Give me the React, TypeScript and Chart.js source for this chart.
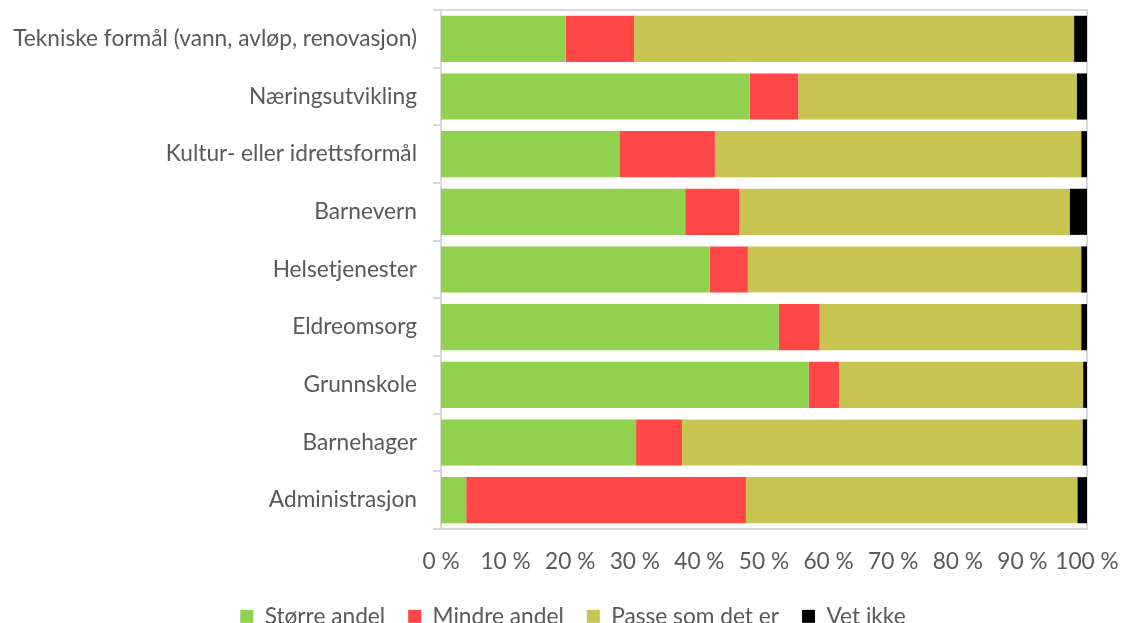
import React, { useEffect, useRef } from "react";
import { Chart, registerables } from "chart.js";

Chart.register(...registerables);

const categories = [
  "Tekniske formål (vann, avløp, renovasjon)",
  "Næringsutvikling",
  "Kultur- eller idrettsformål",
  "Barnevern",
  "Helsetjenester",
  "Eldreomsorg",
  "Grunnskole",
  "Barnehager",
  "Administrasjon",
];

const seriesNames = ["Større andel", "Mindre andel", "Passe som det er", "Vet ikke"];

const storreAndel = [19.3, 47.8, 27.6, 37.8, 41.6, 52.3, 56.9, 30.2, 3.9];
const mindreAndel = [10.6, 7.5, 14.8, 8.4, 5.9, 6.3, 4.7, 7.1, 43.3];
const passeSomDetEr = [68.1, 43.1, 56.7, 51.1, 51.6, 40.5, 37.8, 62.0, 51.3];
const vetIkke = [2.0, 1.6, 0.9, 2.7, 0.9, 0.9, 0.6, 0.7, 1.5];

const xTickValues = [0, 10, 20, 30, 40, 50, 60, 70, 80, 90, 100];
const xTickLabels = ["0 %", "10 %", "20 %", "30 %", "40 %", "50 %", "60 %", "70 %", "80 %", "90 %", "100 %"];

const colors = ["#92D050", "#FF4747", "#C7C452", "#000000"];

const FONT_FAMILY = "Lato";
const TEXT_COLOR = "#595959";
const LINE_COLOR = "#D9D9D9";

function fitFontSize(): number {
  const c = document.createElement("canvas");
  const ctx = c.getContext("2d");
  if (!ctx) return 20;
  ctx.font = `100px ${FONT_FAMILY}`;
  const w = ctx.measureText(categories[0]).width;
  return Math.round(((100 * 404) / w) * 10) / 10;
}

const plotBorder = {
  id: "plotBorder",
  beforeDatasetsDraw(chart: any) {
    const { ctx, chartArea } = chart;
    ctx.save();
    ctx.strokeStyle = LINE_COLOR;
    ctx.lineWidth = 2;
    ctx.beginPath();
    ctx.moveTo(chartArea.left, chartArea.top);
    ctx.lineTo(chartArea.right, chartArea.top);
    ctx.lineTo(chartArea.right, chartArea.bottom);
    ctx.stroke();
    ctx.restore();
  },
};

export default function App() {
  const canvasRef = useRef<HTMLCanvasElement | null>(null);

  useEffect(() => {
    document.body.style.margin = "0";
    const canvas = canvasRef.current;
    if (!canvas) return;
    const fontSize = fitFontSize();
    const font = { family: FONT_FAMILY, size: fontSize };

    const values = [storreAndel, mindreAndel, passeSomDetEr, vetIkke];

    const chart = new Chart(canvas, {
      type: "bar",
      data: {
        labels: categories,
        datasets: seriesNames.map((name, i) => ({
          label: name,
          data: values[i],
          backgroundColor: colors[i],
          borderWidth: 0,
          categoryPercentage: 1,
          barPercentage: 0.8,
        })),
      },
      options: {
        indexAxis: "y",
        responsive: false,
        animation: false,
        layout: { padding: { left: 13, right: -12, top: 10, bottom: 0 } },
        plugins: {
          legend: {
            position: "bottom",
            maxHeight: 41,
            labels: {
              font,
              color: TEXT_COLOR,
              boxWidth: 13,
              boxHeight: 13,
              padding: 23,
            },
          },
          tooltip: { enabled: false },
        },
        scales: {
          x: {
            stacked: true,
            min: 0,
            max: 100,
            afterBuildTicks: (scale: any) => {
              scale.ticks = xTickValues.map((v) => ({ value: v }));
            },
            afterFit: (scale: any) => {
              scale.height = 53;
              scale.paddingRight = 34;
              scale.paddingLeft = 0;
            },
            ticks: {
              font,
              color: TEXT_COLOR,
              padding: 19,
              maxRotation: 0,
              autoSkip: false,
              callback: (v: any) => xTickLabels[xTickValues.indexOf(Number(v))] ?? "",
            },
            grid: { display: false, drawTicks: false },
            border: { display: true, color: LINE_COLOR, width: 2 },
          },
          y: {
            stacked: true,
            afterFit: (scale: any) => {
              scale.width = 428;
              scale.paddingTop = 0;
              scale.paddingBottom = 0;
            },
            ticks: { font, color: TEXT_COLOR, padding: 16, autoSkip: false },
            grid: {
              display: true,
              offset: true,
              drawOnChartArea: false,
              drawTicks: true,
              tickLength: 8,
              color: LINE_COLOR,
              lineWidth: 2,
            },
            border: { display: true, color: LINE_COLOR, width: 2 },
          },
        },
      },
      plugins: [plotBorder],
    });

    return () => chart.destroy();
  }, []);

  return (
    <div style={{ position: "absolute", left: 0, top: 0, width: 1121, height: 623, background: "#fff" }}>
      <canvas ref={canvasRef} width={1121} height={623} />
    </div>
  );
}
